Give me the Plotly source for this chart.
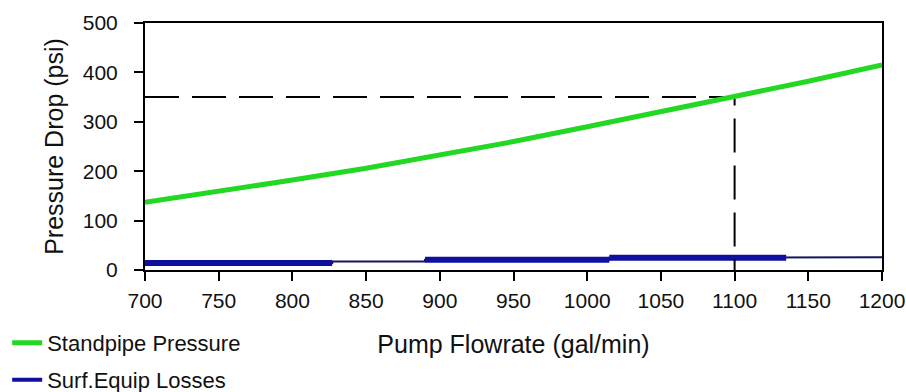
import plotly.graph_objects as go

# ---- data ----
flowrate = [700, 750, 800, 850, 900, 950, 1000, 1050, 1100, 1150, 1200]
standpipe_pressure = [137, 159, 182, 206, 232, 260, 290, 320, 350, 382, 415]

# surface equipment losses: stepped values
step_edges = [700, 827, 890, 1015, 1135, 1200]
step_levels = [14, 17, 21, 25, 26]
thick_segments = [True, False, True, True, False]

target_flow = 1100
target_pressure = 350

x_ticks = [700, 750, 800, 850, 900, 950, 1000, 1050, 1100, 1150, 1200]
y_ticks = [0, 100, 200, 300, 400, 500]

FONT = "Liberation Sans, Arial, sans-serif"

fig = go.Figure()

# thin navy line across all steps
sx, sy = [], []
for i, lv in enumerate(step_levels):
    sx += [step_edges[i], step_edges[i + 1]]
    sy += [lv, lv]
fig.add_trace(go.Scatter(x=sx, y=sy, mode="lines",
                         line=dict(color="#15155e", width=2),
                         showlegend=False, hoverinfo="skip"))
# thick blue segments
bx, by = [], []
for i, lv in enumerate(step_levels):
    if thick_segments[i]:
        bx += [step_edges[i], step_edges[i + 1], None]
        by += [lv, lv, None]
fig.add_trace(go.Scatter(x=bx, y=by, mode="lines",
                         line=dict(color="#1010a0", width=6),
                         showlegend=False, hoverinfo="skip"))

# dashed guide lines
fig.add_trace(go.Scatter(x=[flowrate[0], target_flow, target_flow],
                         y=[target_pressure, target_pressure, 0],
                         mode="lines",
                         line=dict(color="black", width=2, dash="34px,13px"),
                         showlegend=False, hoverinfo="skip"))

# standpipe pressure
fig.add_trace(go.Scatter(x=flowrate, y=standpipe_pressure, mode="lines",
                         name="Standpipe Pressure",
                         line=dict(color="#22d822", width=5),
                         legend="legend"))
# legend entry for losses
fig.add_trace(go.Scatter(x=[None], y=[None], mode="lines",
                         name="Surf.Equip Losses",
                         line=dict(color="#1010a0", width=4),
                         legend="legend2"))

axis_common = dict(showline=True, linecolor="black", linewidth=2, mirror=True,
                   ticks="outside", tickcolor="black", tickwidth=2, ticklen=9,
                   showgrid=False, zeroline=False, automargin=False,
                   tickfont=dict(family=FONT, size=21, color="#111"))

fig.update_layout(
    width=906, height=392,
    margin=dict(l=145, r=24, t=23, b=122, autoexpand=False),
    paper_bgcolor="white", plot_bgcolor="white",
    xaxis=dict(range=[700, 1200], tickvals=x_ticks, ticklabelstandoff=2,
               title=dict(text="Pump Flowrate (gal/min)", standoff=24,
                          font=dict(family=FONT, size=25, color="#111")),
               **axis_common),
    yaxis=dict(range=[0, 500], tickvals=y_ticks, ticklabelstandoff=12,
               title=dict(text="Pressure Drop (psi)", standoff=12,
                          font=dict(family=FONT, size=25, color="#111")),
               **axis_common),
    legend=dict(x=-0.187, y=-0.2955, xanchor="left", yanchor="middle",
                font=dict(family=FONT, size=22, color="#111"),
                bgcolor="rgba(0,0,0,0)", itemwidth=30),
    legend2=dict(x=-0.187, y=-0.445, xanchor="left", yanchor="middle",
                 font=dict(family=FONT, size=22, color="#111"),
                 bgcolor="rgba(0,0,0,0)", itemwidth=30),
)

fig.write_html("out.html")
